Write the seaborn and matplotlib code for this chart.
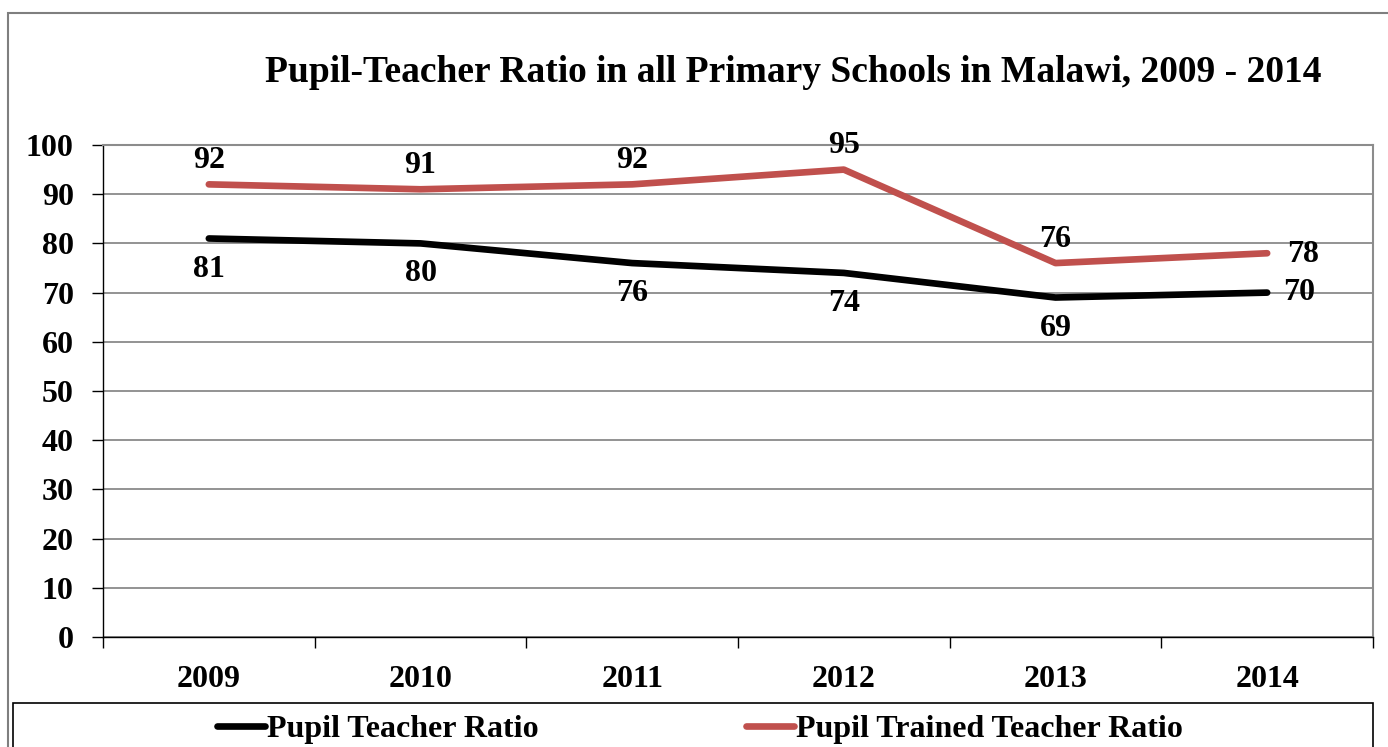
import pandas as pd
import matplotlib.pyplot as plt
import seaborn as sns
from matplotlib.patches import Rectangle
from matplotlib.lines import Line2D

# =====================================
# Data
# =====================================
years = ["2009", "2010", "2011", "2012", "2013", "2014"]
pupil_teacher = [81, 80, 76, 74, 69, 70]
pupil_trained_teacher = [92, 91, 92, 95, 76, 78]

series_names = ["Pupil Teacher Ratio", "Pupil Trained Teacher Ratio"]
series_colors = ["#000000", "#C0504D"]

df = pd.DataFrame({
    "idx": list(range(len(years))) * 2,
    "value": pupil_teacher + pupil_trained_teacher,
    "series": [series_names[0]] * len(years) + [series_names[1]] * len(years),
})

# =====================================
# Style
# =====================================
sns.set_style("white")
plt.rcParams["font.family"] = ["Liberation Serif", "DejaVu Serif"]
plt.rcParams["font.weight"] = "bold"
plt.rcParams["text.color"] = "black"
plt.rcParams["xtick.color"] = "black"
plt.rcParams["ytick.color"] = "black"

FS = 23

fig = plt.figure(figsize=(13.88, 7.47), dpi=100)
ax = fig.add_axes([103 / 1388, 1 - 637 / 747, 1270 / 1388, 492 / 747])

sns.lineplot(
    data=df,
    x="idx",
    y="value",
    hue="series",
    palette=series_colors,
    linewidth=4.8,
    legend=False,
    ax=ax,
    solid_capstyle="round",
)

# =====================================
# Axes
# =====================================
ax.set_xlim(-0.5, len(years) - 0.5)
ax.set_ylim(0, 100)
ax.set_yticks(range(0, 101, 10))
ax.set_yticklabels([str(v) for v in range(0, 101, 10)], fontsize=FS, fontweight="bold")
ax.set_xticks([i - 0.5 for i in range(len(years) + 1)])
ax.set_xticklabels([])
ax.set_xticks(range(len(years)), minor=True)
ax.set_xticklabels(years, minor=True, fontsize=FS, fontweight="bold")
ax.tick_params(axis="x", which="major", direction="out", length=8, width=1, color="black", bottom=True)
ax.tick_params(axis="x", which="minor", length=0, pad=20)
ax.tick_params(axis="y", direction="out", length=8, width=1, color="black", left=True, pad=13)
ax.set_xlabel("")
ax.set_ylabel("")

ax.yaxis.grid(True, color="#808080", linewidth=1.2)
ax.set_axisbelow(True)
for side in ["top", "right"]:
    ax.spines[side].set_color("#8c8c8c")
    ax.spines[side].set_linewidth(1.5)
for side in ["left", "bottom"]:
    ax.spines[side].set_color("black")
    ax.spines[side].set_linewidth(1)

# =====================================
# Data labels
# =====================================
for i, v in enumerate(pupil_teacher):
    if i == len(years) - 1:
        ax.annotate(str(v), (i, v), xytext=(23, 0), textcoords="offset points",
                    ha="center", va="center", fontsize=FS, fontweight="bold")
    else:
        ax.annotate(str(v), (i, v), xytext=(0, -22), textcoords="offset points",
                    ha="center", va="center", fontsize=FS, fontweight="bold")

for i, v in enumerate(pupil_trained_teacher):
    if i == len(years) - 1:
        ax.annotate(str(v), (i, v), xytext=(26, -1), textcoords="offset points",
                    ha="center", va="center", fontsize=FS, fontweight="bold")
    else:
        ax.annotate(str(v), (i, v), xytext=(0, 17), textcoords="offset points",
                    ha="center", va="center", fontsize=FS, fontweight="bold")

# =====================================
# Title
# =====================================
fig.text(793 / 1388, 1 - 73 / 747, "Pupil-Teacher Ratio in all Primary Schools in Malawi, 2009 - 2014",
         ha="center", va="center", fontsize=27, fontweight="bold")

# =====================================
# Outer frame and legend box
# =====================================
fig.patches.append(Rectangle((8 / 1388, -0.1), 1.2, 1 - 13 / 747 + 0.1,
                             transform=fig.transFigure, fill=False,
                             edgecolor="#7f7f7f", linewidth=1.5))
fig.patches.append(Rectangle((13 / 1388, -0.1), 1360 / 1388, 1 - 703 / 747 + 0.1,
                             transform=fig.transFigure, fill=False,
                             edgecolor="black", linewidth=1.2))

handles = [Line2D([0], [0], color=c, linewidth=4.8, solid_capstyle="round") for c in series_colors]
fig.legend(
    handles,
    series_names,
    loc="center",
    bbox_to_anchor=(700 / 1388, 1 - 729 / 747),
    ncol=2,
    frameon=False,
    prop={"size": FS, "weight": "bold", "family": "Liberation Serif"},
    handlelength=1.5,
    handletextpad=0.05,
    columnspacing=6.5,
)

plt.savefig("out.png", dpi=100)
